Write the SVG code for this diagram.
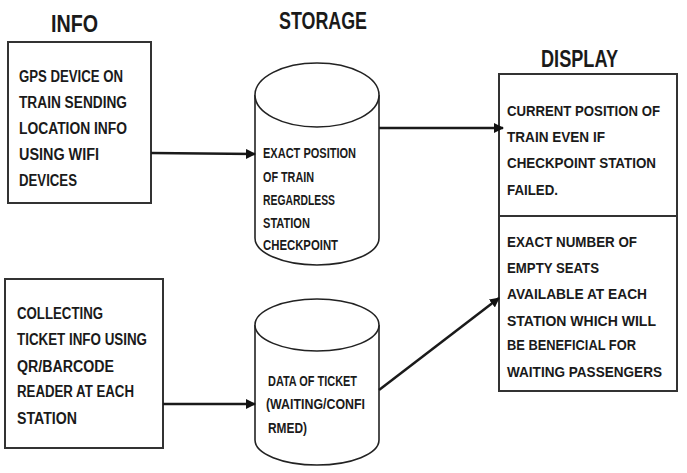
<svg xmlns="http://www.w3.org/2000/svg" width="687" height="473" viewBox="0 0 687 473">
<defs>
<marker id="ah" markerWidth="10" markerHeight="10" refX="9" refY="5" orient="auto" markerUnits="userSpaceOnUse">
<path d="M0,0 L10,5 L0,10 Z" fill="#111"/>
</marker>
<style>
.box{fill:#fff;stroke:#333;stroke-width:2}
.cyl{fill:#fff;stroke:#222;stroke-width:1.6}
.t{font-family:"Liberation Sans",Arial,sans-serif;font-weight:bold;fill:#1a1a1a}
.b{font-size:16px}
.c{font-size:14px}
.d{font-size:15px}
.h{font-size:24px}
.con{stroke:#1a1a1a;stroke-width:2.5;fill:none;marker-end:url(#ah)}
</style>
</defs>
<rect width="687" height="473" fill="#fff"/>
<g id="titles">
<text class="t h" x="51" y="32" textLength="47" lengthAdjust="spacingAndGlyphs">INFO</text>
<text class="t h" x="279" y="29" textLength="88" lengthAdjust="spacingAndGlyphs">STORAGE</text>
<text class="t h" x="541" y="67" textLength="77" lengthAdjust="spacingAndGlyphs">DISPLAY</text>
</g>
<g id="gps">
<rect class="box" x="8" y="42" width="143" height="161"/>
<text class="t b" x="19" y="82" textLength="104" lengthAdjust="spacingAndGlyphs">GPS DEVICE ON</text>
<text class="t b" x="19" y="108" textLength="108" lengthAdjust="spacingAndGlyphs">TRAIN SENDING</text>
<text class="t b" x="19" y="134" textLength="108" lengthAdjust="spacingAndGlyphs">LOCATION INFO</text>
<text class="t b" x="19" y="160" textLength="80" lengthAdjust="spacingAndGlyphs">USING WIFI</text>
<text class="t b" x="19" y="186" textLength="58" lengthAdjust="spacingAndGlyphs">DEVICES</text>
</g>
<g id="ticket">
<rect class="box" x="5" y="279" width="158" height="169"/>
<text class="t b" x="17" y="319" textLength="86" lengthAdjust="spacingAndGlyphs">COLLECTING</text>
<text class="t b" x="17" y="345" textLength="130" lengthAdjust="spacingAndGlyphs">TICKET INFO USING</text>
<text class="t b" x="17" y="372" textLength="97" lengthAdjust="spacingAndGlyphs">QR/BARCODE</text>
<text class="t b" x="17" y="397" textLength="117" lengthAdjust="spacingAndGlyphs">READER AT EACH</text>
<text class="t b" x="17" y="424" textLength="60" lengthAdjust="spacingAndGlyphs">STATION</text>
</g>
<g id="store1">
<path class="cyl" d="M255,95 L255,238 A62,27 0 0 0 379,238 L379,95"/>
<ellipse class="cyl" cx="317" cy="95" rx="62" ry="32"/>
<text class="t c" x="263" y="158" textLength="93" lengthAdjust="spacingAndGlyphs">EXACT POSITION</text>
<text class="t c" x="263" y="182" textLength="51" lengthAdjust="spacingAndGlyphs">OF TRAIN</text>
<text class="t c" x="263" y="205" textLength="72" lengthAdjust="spacingAndGlyphs">REGARDLESS</text>
<text class="t c" x="263" y="228" textLength="47" lengthAdjust="spacingAndGlyphs">STATION</text>
<text class="t c" x="263" y="250" textLength="75" lengthAdjust="spacingAndGlyphs">CHECKPOINT</text>
</g>
<g id="store2">
<path class="cyl" d="M255,325 L255,440 A62,25 0 0 0 379,440 L379,325"/>
<ellipse class="cyl" cx="317" cy="325" rx="62" ry="26"/>
<text class="t c" x="268" y="386" textLength="89" lengthAdjust="spacingAndGlyphs">DATA OF TICKET</text>
<text class="t c" x="266" y="409" textLength="99" lengthAdjust="spacingAndGlyphs">(WAITING/CONFI</text>
<text class="t c" x="268" y="433" textLength="39" lengthAdjust="spacingAndGlyphs">RMED)</text>
</g>
<g id="display">
<rect class="box" x="499" y="74" width="178" height="317"/>
<line x1="499" y1="216" x2="677" y2="216" stroke="#333" stroke-width="2"/>
<text class="t d" x="507" y="116" textLength="153" lengthAdjust="spacingAndGlyphs">CURRENT POSITION OF</text>
<text class="t d" x="507" y="142" textLength="98" lengthAdjust="spacingAndGlyphs">TRAIN EVEN IF</text>
<text class="t d" x="507" y="168" textLength="149" lengthAdjust="spacingAndGlyphs">CHECKPOINT STATION</text>
<text class="t d" x="507" y="195" textLength="51" lengthAdjust="spacingAndGlyphs">FAILED.</text>
<text class="t d" x="507" y="247" textLength="130" lengthAdjust="spacingAndGlyphs">EXACT NUMBER OF</text>
<text class="t d" x="507" y="273" textLength="92" lengthAdjust="spacingAndGlyphs">EMPTY SEATS</text>
<text class="t d" x="507" y="299" textLength="140" lengthAdjust="spacingAndGlyphs">AVAILABLE AT EACH</text>
<text class="t d" x="507" y="326" textLength="149" lengthAdjust="spacingAndGlyphs">STATION WHICH WILL</text>
<text class="t d" x="507" y="350" textLength="129" lengthAdjust="spacingAndGlyphs">BE BENEFICIAL FOR</text>
<text class="t d" x="507" y="377" textLength="155" lengthAdjust="spacingAndGlyphs">WAITING PASSENGERS</text>
</g>
<g id="connectors">
<line class="con" x1="151" y1="153" x2="255" y2="154"/>
<line class="con" x1="379" y1="128" x2="503" y2="128"/>
<line class="con" x1="163" y1="404" x2="255" y2="404"/>
<line class="con" x1="379" y1="390" x2="499" y2="298"/>
</g>
</svg>
